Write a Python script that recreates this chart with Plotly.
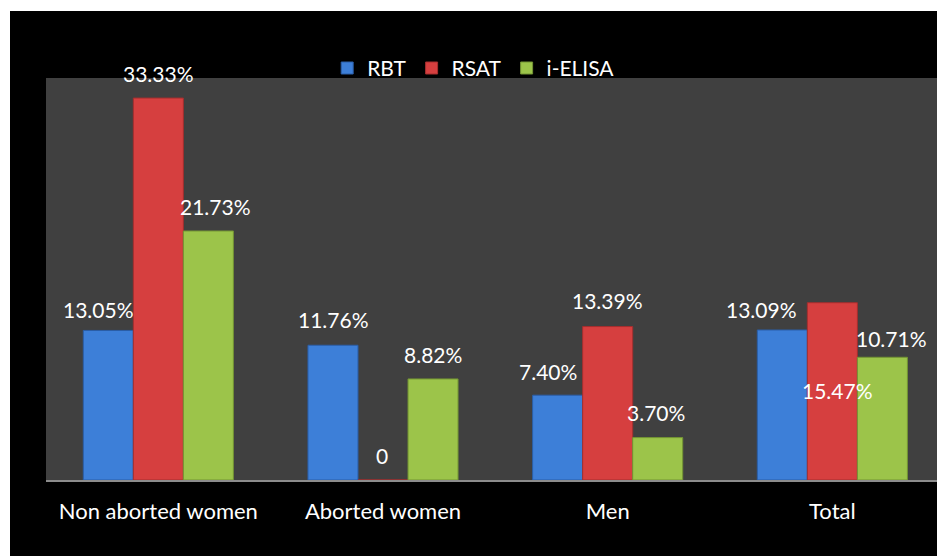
import plotly.graph_objects as go

categories = ["Non aborted women", "Aborted women", "Men", "Total"]
series_names = ["RBT", "RSAT", "i-ELISA"]
rbt = [13.05, 11.76, 7.40, 13.09]
rsat = [33.33, 0.0, 13.39, 15.47]
ielisa = [21.73, 8.82, 3.70, 10.71]
rbt_labels = ["13.05%", "11.76%", "7.40%", "13.09%"]
rsat_labels = ["33.33%", "0", "13.39%", "15.47%"]
ielisa_labels = ["21.73%", "8.82%", "3.70%", "10.71%"]

values = [rbt, rsat, ielisa]
labels = [rbt_labels, rsat_labels, ielisa_labels]
colors = ["#3d7fd8", "#d63f3f", "#9cc44a"]
edge_colors = ["#2a5ea8", "#a52e2e", "#739433"]

# label offsets (px): horizontal shift and vertical distance above bar top
label_dx = [[-10, 0, -10, -21], [0, -1, 0, 5], [7, 0, -2, 9]]
label_dy = [[21, 26, 24, 20], [25, 25, 26, -88], [24, 24, 25, 19]]
bar_px = 50

FONT = "Lato"

fig = go.Figure()
for i, name in enumerate(series_names):
    fig.add_trace(go.Bar(
        x=categories, y=values[i], name=name,
        marker=dict(color=colors[i], line=dict(color=edge_colors[i], width=1)),
    ))

annotations = []
for i in range(3):
    for j, cat in enumerate(categories):
        annotations.append(dict(
            x=cat, y=values[i][j], xref="x", yref="y",
            text=labels[i][j], showarrow=False,
            xshift=(i - 1) * bar_px + label_dx[i][j],
            yshift=label_dy[i][j],
            font=dict(family=FONT, size=21, color="white"),
            xanchor="center", yanchor="middle",
        ))

shapes = [
    # white frame strips (top and left)
    dict(type="rect", xref="paper", yref="paper", x0=-0.2, x1=1.1,
         y0=(480 - 11) / 402, y1=1.5, fillcolor="white", line=dict(width=0), layer="above"),
    dict(type="rect", xref="paper", yref="paper", x0=-0.2, x1=(10 - 46) / 891,
         y0=-0.5, y1=1.5, fillcolor="white", line=dict(width=0), layer="above"),
]

fig.update_layout(
    width=937, height=556,
    margin=dict(l=46, r=0, t=78, b=76),
    paper_bgcolor="black", plot_bgcolor="#404040",
    barmode="group", bargap=0.332, bargroupgap=0,
    font=dict(family=FONT, size=21, color="white"),
    legend=dict(orientation="h", x=0.48, xanchor="center", y=1.075, yanchor="top",
                font=dict(family=FONT, size=21, color="white"),
                bgcolor="rgba(0,0,0,0)", itemwidth=30, tracegroupgap=0),
    annotations=annotations, shapes=shapes,
    xaxis=dict(range=[-0.5, -0.5 + 891 / 224.67], showgrid=False, showline=True,
               linecolor="#8c8c8c", linewidth=2, ticks="outside", ticklen=11,
               tickcolor="rgba(0,0,0,0)", tickfont=dict(family=FONT, size=22, color="white")),
    yaxis=dict(range=[0, 35.08], showgrid=False, showticklabels=False, zeroline=False,
               showline=False, ticks=""),
)

fig.write_html("out.html")
